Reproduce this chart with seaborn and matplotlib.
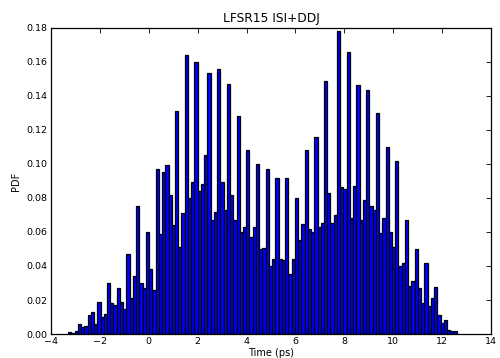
import numpy as np
import pandas as pd
import matplotlib
matplotlib.use("Agg")
import matplotlib.pyplot as plt
import seaborn as sns

# Histogram data (PDF per bin)
bin_start = -3.30
bin_stop = 12.60
pdf_values = [
    0.0012, 0.0005, 0.002, 0.006, 0.004, 0.005, 0.011, 0.013, 0.006, 0.019,
    0.010, 0.012, 0.030, 0.018, 0.017, 0.027, 0.019, 0.015, 0.047, 0.021,
    0.034, 0.075, 0.030, 0.027, 0.060, 0.038, 0.026, 0.097, 0.059, 0.095,
    0.0995, 0.082, 0.064, 0.131, 0.051, 0.071, 0.164, 0.080, 0.0895, 0.160,
    0.084, 0.088, 0.105, 0.1535, 0.067, 0.072, 0.156, 0.0895, 0.073, 0.147,
    0.082, 0.067, 0.128, 0.060, 0.063, 0.108, 0.057, 0.063, 0.100, 0.050,
    0.0505, 0.097, 0.040, 0.044, 0.0915, 0.044, 0.0438, 0.0915, 0.035, 0.044,
    0.080, 0.055, 0.0646, 0.108, 0.062, 0.060, 0.116, 0.063, 0.0655, 0.1486,
    0.083, 0.0655, 0.070, 0.178, 0.0864, 0.0854, 0.166, 0.0685, 0.087, 0.1466,
    0.067, 0.079, 0.1435, 0.0754, 0.073, 0.130, 0.0593, 0.068, 0.110, 0.060,
    0.0514, 0.102, 0.040, 0.0416, 0.067, 0.0285, 0.031, 0.050, 0.027, 0.018,
    0.042, 0.0165, 0.021, 0.0275, 0.0114, 0.0067, 0.008, 0.0026, 0.002, 0.0018,
]
title = "LFSR15 ISI+DDJ"
x_label = "Time (ps)"
y_label = "PDF"
x_ticks = [-4, -2, 0, 2, 4, 6, 8, 10, 12, 14]
y_ticks = [0.00, 0.02, 0.04, 0.06, 0.08, 0.10, 0.12, 0.14, 0.16, 0.18]

edges = [float(e) for e in np.linspace(bin_start, bin_stop, len(pdf_values) + 1)]
centers = [(edges[i] + edges[i + 1]) / 2 for i in range(len(pdf_values))]
df = pd.DataFrame({"time": centers, "pdf": pdf_values})

sns.set_style("white")
plt.rcParams["font.family"] = ["DejaVu Sans"]
plt.rcParams["xtick.direction"] = "in"
plt.rcParams["ytick.direction"] = "in"

fig = plt.figure(figsize=(5.0, 3.58), dpi=100)
ax = fig.add_axes([0.102, 0.067, 0.880, 0.855])

sns.histplot(data=df, x="time", weights="pdf", bins=edges, stat="count",
             color="#0000ff", edgecolor="black", linewidth=0.9, alpha=1.0,
             ax=ax)

ax.set_xlim(-4, 14)
ax.set_ylim(0, 0.18)
ax.set_xticks(x_ticks)
ax.set_yticks(y_ticks)
ax.set_yticklabels([f"{v:.2f}" for v in y_ticks])
ax.set_xticklabels([f"{v}".replace("-", "\u2212") for v in x_ticks])
ax.tick_params(axis="both", which="major", labelsize=6.8, direction="in",
               length=3.5, width=0.6, top=True, right=True, color="black",
               pad=2.5, labelcolor="black")
for s in ax.spines.values():
    s.set_visible(True)
    s.set_color("black")
    s.set_linewidth(0.9)

ax.set_title(title, fontsize=8.8, pad=4, color="black")
ax.set_xlabel(x_label, fontsize=7, labelpad=1, color="black")
ax.set_ylabel(y_label, fontsize=7, labelpad=4, color="black")

fig.savefig("out.png", dpi=100)
